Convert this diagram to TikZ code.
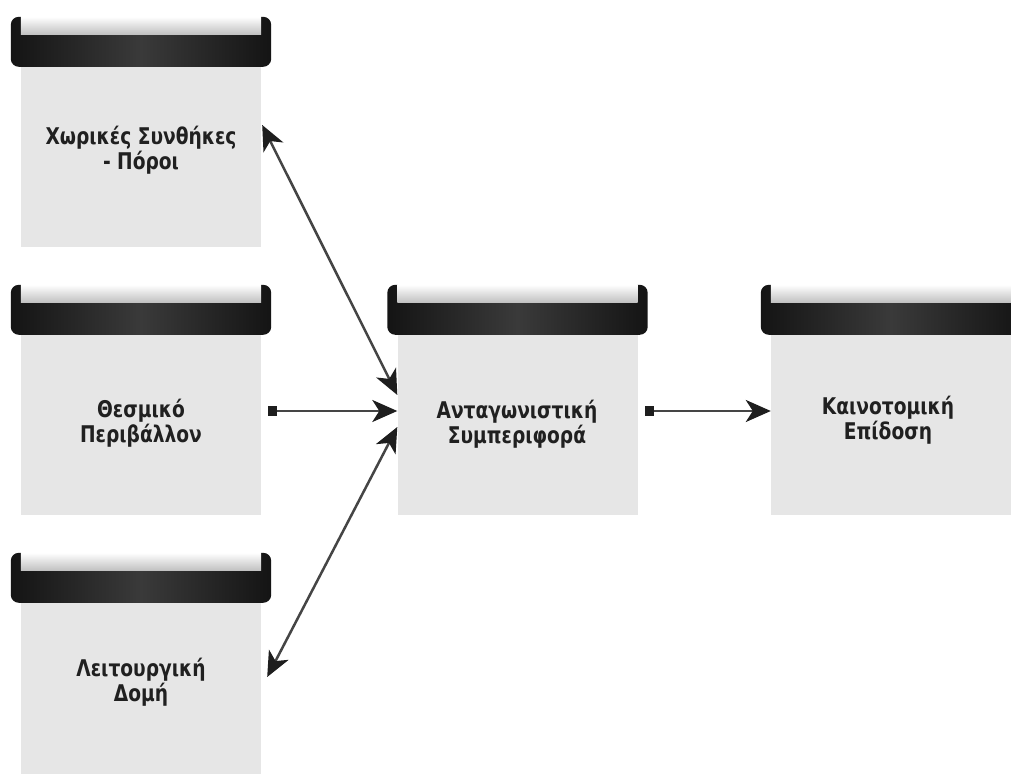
\documentclass[tikz,border=0pt]{standalone}
\usepackage{fontspec}
\setmainfont{DejaVu Sans Condensed}[FakeStretch=0.9]
\usetikzlibrary{arrows.meta,calc}
\definecolor{bodygray}{HTML}{E6E6E6}
\definecolor{linec}{HTML}{454545}
\definecolor{tipc}{HTML}{1E1E1E}
\definecolor{txtc}{HTML}{202020}
\definecolor{hdark}{HTML}{141414}
\definecolor{hmid}{HTML}{3A3A3A}
\newcommand\boxhead[1]{%
  \path[left color=hdark, right color=hdark, middle color=hmid, rounded corners=8pt]
    ($(#1.north west)+(-10,0)$) rectangle ($(#1.north east)+(10,50)$);
  \path[top color=white, bottom color=black!25]
    ($(#1.north west)+(0,32)$) rectangle ($(#1.north east)+(0,50)$);
}
\tikzset{
  hd/.tip={Stealth[length=25pt,width=22pt,inset=7pt,color=tipc]},
  sqt/.tip={Square[length=9pt,width=10pt,color=tipc]}}
\begin{document}
\begin{tikzpicture}[x=1pt,y=1pt,
  body/.style={fill=bodygray, minimum width=240pt, minimum height=180pt, inner sep=0pt, draw=none},
  txt/.style={font=\fontsize{23}{24.5}\selectfont\bfseries, text=txtc, align=center, inner sep=0pt},
  conn/.style={line width=2.5pt, draw=linec}]
\useasboundingbox (0,0) rectangle (1011,773);
\fill[white] (0,0) rectangle (1011,773);
% boxes
\node[body] (b1) at (141,616) {};
\node[body] (b2) at (141,348) {};
\node[body] (b3) at (141,80) {};
\node[body] (bc) at (517.5,348) {};
\node[body] (br) at (891,348) {};
\boxhead{b1}
\boxhead{b2}
\boxhead{b3}
\boxhead{bc}
\boxhead{br}
% texts
\node[txt] (t1) at (141,623) {Χωρικές Συνθήκες\\- Πόροι};
\node[txt] (t2) at (141,350) {Θεσμικό\\Περιβάλλον};
\node[txt] (t3) at (141,91) {Λειτουργική\\Δομή};
\node[txt] (tc) at (517,349) {Ανταγωνιστική\\Συμπεριφορά};
\node[txt] (tr) at (888,353) {Καινοτομική\\Επίδοση};
% connector end points
\coordinate (p1) at ($(b1.east)+(1,32)$);
\coordinate (q1) at ($(bc.west)+(0,30)$);
\coordinate (p2) at ($(b2.east)+(7,14)$);
\coordinate (q2) at ($(bc.west)+(0,14)$);
\coordinate (p3) at ($(b3.east)+(6,16)$);
\coordinate (q3) at ($(bc.west)+(0,-2)$);
\coordinate (p4) at ($(bc.east)+(7,14)$);
\coordinate (q4) at ($(br.west)+(0,14)$);
% connectors
\draw[conn, hd-hd] (p1) -- (q1);
\draw[conn, sqt-hd] (p2) -- (q2);
\draw[conn, hd-hd] (p3) -- (q3);
\draw[conn, sqt-hd] (p4) -- (q4);
\end{tikzpicture}
\end{document}
